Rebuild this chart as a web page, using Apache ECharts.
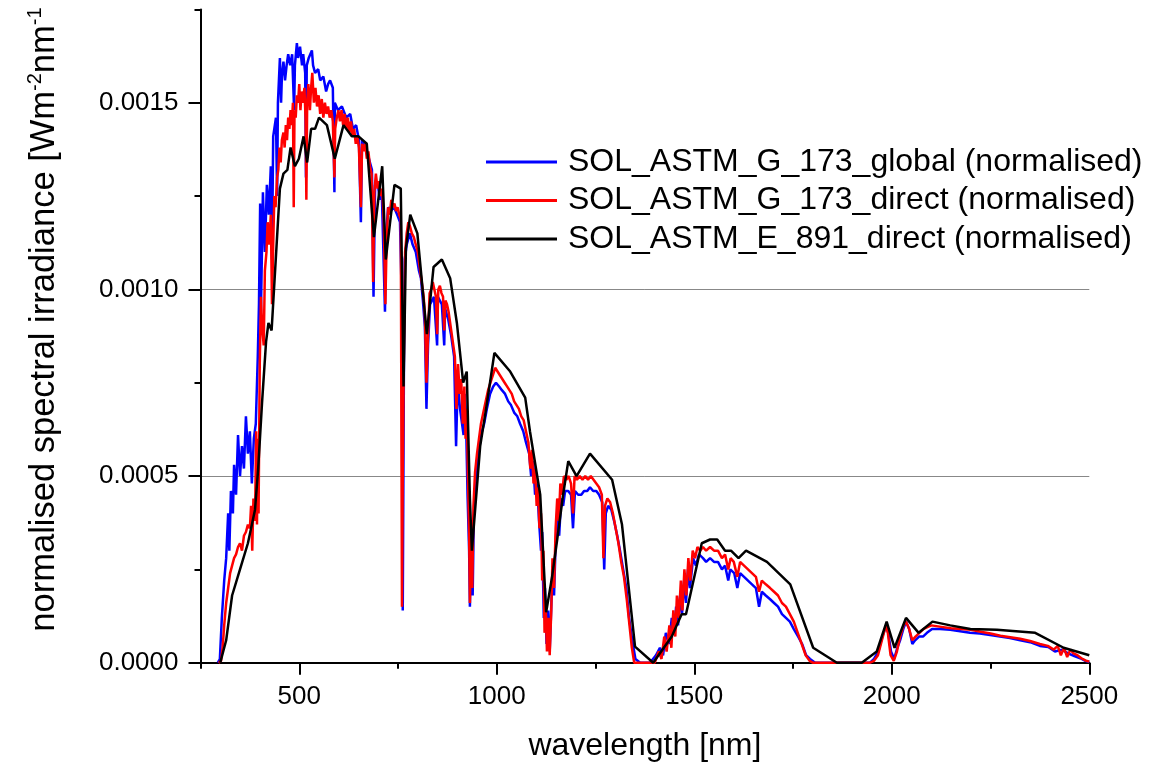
<!DOCTYPE html>
<html>
<head>
<meta charset="utf-8">
<script src="https://cdn.jsdelivr.net/npm/echarts@6/dist/echarts.min.js"></script>
<style>
  html, body { margin: 0; padding: 0; background: #fff; }
  #chart { width: 1158px; height: 764px; }
</style>
</head>
<body>
<div id="chart"></div>
<script>
// axis ticks
var xMajorTicks = [500, 1000, 1500, 2000, 2500];
var xMinorTicks = [250, 750, 1250, 1750, 2250];
var yMajorTicks = [0, 0.0005, 0.001, 0.0015];
var yMinorTicks = [0.00025, 0.00075, 0.00125, 0.00175];

var seriesNames = [
  'SOL_ASTM_G_173_global (normalised)',
  'SOL_ASTM_G_173_direct (normalised)',
  'SOL_ASTM_E_891_direct (normalised)'
];

// [wavelength nm, normalised irradiance]
var g173Global = [
  [294,0],[299,0.00001],[304,0.00012],[310,0.00022],[315,0.00028],[320,0.0004],[323,0.0003],
  [327,0.00046],[332,0.0004],[335,0.00053],[340,0.00045],[345,0.00061],[350,0.0005],[355,0.00058],
  [360,0.00052],[365,0.00066],[370,0.00056],[375,0.00062],[380,0.00048],[385,0.0006],[390,0.00064],
  [395,0.00082],[398,0.00096],[401,0.00123],[403,0.00094],[408,0.00126],[413,0.0011],[418,0.00128],
  [423,0.0012],[428,0.00133],[431,0.00108],[434,0.00141],[441,0.00146],[444,0.00125],[446,0.0015],
  [451,0.00162],[454,0.0015],[456,0.00157],[460,0.00161],[464,0.00156],[468,0.0016],[472,0.00163],
  [477,0.0016],[482,0.00163],[487,0.00148],[489,0.0016],[494,0.00166],[497,0.00162],[502,0.00165],
  [507,0.0016],[510,0.00163],[515,0.00158],[517,0.0013],[519,0.0016],[524,0.00162],[532,0.00164],
  [535,0.0016],[540,0.00158],[548,0.00159],[553,0.00156],[561,0.00157],[568,0.00153],[573,0.00155],
  [578,0.00156],[585,0.00154],[589,0.00126],[590,0.0015],[598,0.00148],[608,0.00149],[619,0.00146],
  [629,0.00147],[636,0.00143],[644,0.00144],[651,0.0014],[656,0.00118],[659,0.0014],[667,0.00138],
  [674,0.00136],[679,0.00134],[684,0.00132],[688,0.00098],[692,0.00128],[699,0.00128],[704,0.00124],
  [709,0.00126],[717,0.00094],[720,0.00115],[725,0.00122],[732,0.00121],[740,0.00122],[748,0.0012],
  [755,0.00118],[759,0.001],[762,0.00014],[765,0.0008],[767,0.00108],[772,0.00112],[780,0.00115],
  [787,0.00112],[795,0.0011],[803,0.00105],[808,0.00103],[813,0.00097],[818,0.0009],[822,0.00068],
  [826,0.00085],[831,0.00096],[836,0.00096],[841,0.00098],[849,0.00085],[851,0.00098],[856,0.00097],
  [861,0.00096],[867,0.00085],[869,0.00095],[877,0.00092],[884,0.00088],[892,0.00082],[897,0.00058],
  [901,0.00075],[907,0.00068],[916,0.00061],[919,0.00072],[922,0.00066],[926,0.00045],[930,0.0003],
  [932,0.00015],[935,0.00032],[939,0.00018],[942,0.0004],[947,0.0005],[953,0.00055],[960,0.00061],
  [968,0.00064],[975,0.00068],[983,0.00072],[991,0.00074],[998,0.00075],[1006,0.00074],[1013,0.00073],
  [1021,0.00072],[1029,0.0007],[1036,0.00069],[1044,0.00067],[1052,0.00066],[1059,0.00064],
  [1067,0.00062],[1074,0.00059],[1082,0.00056],[1087,0.0005],[1092,0.00054],[1097,0.00045],
  [1102,0.00048],[1107,0.00038],[1112,0.0003],[1115,0.00035],[1119,0.00012],[1122,0.0002],
  [1126,0.00005],[1130,0.00014],[1134,0.00003],[1137,0.00012],[1141,0.00025],[1145,0.00018],
  [1149,0.00032],[1153,0.0004],[1158,0.00034],[1163,0.00044],[1168,0.00042],[1173,0.00046],
  [1181,0.00046],[1188,0.00045],[1193,0.00036],[1198,0.00046],[1206,0.00045],[1214,0.00045],
  [1221,0.00046],[1229,0.00046],[1236,0.00047],[1244,0.00046],[1252,0.00046],[1259,0.00045],
  [1267,0.00043],[1272,0.00025],[1276,0.0004],[1282,0.00042],[1290,0.00041],[1297,0.00038],
  [1305,0.00034],[1312,0.0003],[1320,0.00025],[1328,0.0002],[1335,0.00012],[1343,0.00006],
  [1351,0.00001],[1363,0],[1388,0],[1403,0.00002],[1413,0.00004],[1421,0.00002],[1428,0.00008],
  [1436,0.00005],[1443,0.00012],[1449,0.00008],[1454,0.00015],[1459,0.0001],[1464,0.00018],
  [1469,0.00013],[1474,0.00022],[1479,0.00016],[1484,0.00025],[1489,0.0002],[1497,0.00028],
  [1504,0.00026],[1512,0.00029],[1522,0.00028],[1530,0.00027],[1540,0.00028],[1550,0.00027],
  [1560,0.00027],[1570,0.00025],[1578,0.00026],[1586,0.00022],[1591,0.00025],[1601,0.00024],
  [1609,0.0002],[1616,0.00024],[1626,0.00023],[1636,0.00022],[1646,0.00021],[1656,0.0002],
  [1664,0.00015],[1671,0.00019],[1681,0.00018],[1692,0.00017],[1702,0.00016],[1712,0.00015],
  [1722,0.00013],[1732,0.00012],[1742,0.00011],[1752,0.00009],[1763,0.00007],[1773,0.00005],
  [1783,0.00002],[1793,0.00001],[1806,0],[1945,0],[1955,0.00001],[1966,0.00003],[1976,0.00007],
  [1986,0.0001],[1991,0.00008],[1998,0.00003],[2006,0.00001],[2014,0.00004],[2021,0.00006],
  [2029,0.00009],[2036,0.00011],[2044,0.00009],[2052,0.00005],[2059,0.00006],[2069,0.00007],
  [2079,0.00007],[2089,0.00008],[2102,0.00009],[2122,0.00009],[2148,0.000088],[2173,0.000084],
  [2198,0.00008],[2223,0.000078],[2249,0.000074],[2274,0.00007],[2299,0.000066],[2325,0.00006],
  [2350,0.000055],[2375,0.000045],[2396,0.000042],[2413,0.00003],[2431,0.000035],[2446,0.000025],
  [2462,0.000018],[2477,0.000012],[2490,0.000005],[2500,0.000002]
];

var g173Direct = [
  [296,0],[302,0.000005],[306,0.00004],[310,0.0001],[315,0.00016],[320,0.0002],[325,0.00024],
  [330,0.00026],[335,0.00028],[340,0.00029],[345,0.00031],[350,0.00032],[355,0.0003],[360,0.00034],
  [365,0.00035],[370,0.00037],[375,0.00036],[378,0.00042],[381,0.0003],[384,0.00044],[388,0.00038],
  [391,0.00062],[393,0.00037],[395,0.0006],[397,0.0004],[400,0.0008],[403,0.00098],[406,0.0009],
  [410,0.00085],[413,0.00105],[417,0.0011],[420,0.00118],[424,0.00112],[428,0.0012],[431,0.00096],
  [434,0.00112],[437,0.00125],[440,0.00122],[444,0.0013],[447,0.00132],[450,0.00138],[453,0.00134],
  [456,0.0014],[460,0.00142],[463,0.00138],[466,0.00144],[469,0.0014],[472,0.00146],[475,0.00143],
  [478,0.00148],[481,0.00144],[484,0.0015],[486,0.00122],[488,0.00148],[491,0.00146],[494,0.00152],
  [497,0.0015],[500,0.00155],[503,0.00148],[506,0.00153],[510,0.0015],[513,0.00154],[516,0.00146],
  [518,0.00124],[520,0.0015],[523,0.00155],[527,0.00148],[530,0.00154],[533,0.00158],[537,0.0015],
  [541,0.00154],[545,0.00149],[549,0.00152],[553,0.00147],[557,0.00151],[561,0.00146],[565,0.0015],
  [569,0.00147],[573,0.00149],[577,0.00146],[581,0.00148],[585,0.00145],[589,0.0013],[591,0.00143],
  [595,0.00146],[599,0.00148],[603,0.00145],[607,0.00148],[611,0.00144],[615,0.00147],[619,0.00143],
  [623,0.00146],[627,0.00142],[631,0.00145],[635,0.00141],[639,0.00143],[643,0.00139],[647,0.00141],
  [651,0.00138],[656,0.00122],[659,0.00139],[663,0.00137],[667,0.00139],[671,0.00135],[675,0.00137],
  [679,0.00133],[683,0.00131],[687,0.00102],[690,0.00126],[694,0.00131],[698,0.00127],[702,0.00129],
  [706,0.00125],[710,0.00127],[714,0.00118],[718,0.00096],[721,0.00112],[725,0.00122],[729,0.0012],
  [733,0.00124],[737,0.00122],[741,0.00123],[745,0.00121],[749,0.00122],[753,0.0012],[757,0.00119],
  [760,0.00015],[762,0.0005],[765,0.00085],[768,0.0011],[772,0.00115],[776,0.00118],[780,0.00117],
  [785,0.00115],[790,0.00114],[795,0.00112],[800,0.0011],[805,0.00106],[810,0.00102],[815,0.00098],
  [818,0.00093],[822,0.00075],[826,0.00088],[830,0.00099],[834,0.001],[838,0.00102],[842,0.001],
  [846,0.00098],[849,0.00088],[852,0.001],[856,0.00101],[860,0.00099],[864,0.00098],[867,0.00089],
  [870,0.00097],[874,0.00096],[878,0.00094],[882,0.00091],[886,0.00088],[890,0.00085],[894,0.00082],
  [898,0.00068],[902,0.0008],[906,0.00072],[910,0.00076],[914,0.00064],[918,0.00074],[921,0.0006],
  [924,0.00068],[927,0.0005],[930,0.00035],[932,0.00016],[935,0.00034],[938,0.0002],[941,0.00042],
  [945,0.00051],[950,0.00056],[955,0.0006],[960,0.00064],[966,0.00067],[972,0.0007],[978,0.00073],
  [984,0.00075],[990,0.00077],[996,0.00079],[1002,0.00078],[1008,0.00077],[1014,0.00076],
  [1020,0.00075],[1026,0.00074],[1032,0.00073],[1038,0.00072],[1044,0.0007],[1050,0.00069],
  [1056,0.00068],[1062,0.00066],[1068,0.00065],[1074,0.00062],[1080,0.00059],[1085,0.00052],
  [1089,0.00057],[1093,0.00048],[1097,0.00052],[1101,0.00042],[1105,0.00047],[1108,0.00036],
  [1112,0.0004],[1115,0.00022],[1118,0.0003],[1121,0.00008],[1124,0.00015],[1127,0.00003],
  [1131,0.00012],[1134,0.00002],[1138,0.00014],[1141,0.00028],[1145,0.0002],[1149,0.00036],
  [1153,0.00044],[1157,0.00038],[1161,0.00048],[1165,0.00045],[1170,0.0005],[1176,0.00049],
  [1182,0.0005],[1188,0.00048],[1193,0.0004],[1197,0.0005],[1203,0.00049],[1210,0.0005],
  [1217,0.00049],[1224,0.0005],[1231,0.00049],[1238,0.0005],[1245,0.00049],[1252,0.00048],
  [1259,0.00047],[1266,0.00045],[1270,0.00028],[1274,0.00042],[1280,0.00044],[1287,0.00043],
  [1294,0.0004],[1301,0.00036],[1308,0.00032],[1315,0.00027],[1322,0.00023],[1329,0.00017],
  [1336,0.0001],[1342,0.00004],[1348,0],[1400,0],[1410,0.00003],[1417,0.00001],[1424,0.00007],
  [1430,0.00003],[1437,0.0001],[1442,0.00004],[1447,0.00014],[1452,0.00007],[1456,0.00018],
  [1461,0.00012],[1466,0.00022],[1470,0.00014],[1475,0.00025],[1480,0.00018],[1485,0.00028],
  [1490,0.00022],[1496,0.0003],[1502,0.00028],[1508,0.00031],[1515,0.0003],[1522,0.00031],
  [1530,0.0003],[1540,0.00031],[1550,0.0003],[1560,0.0003],[1570,0.00028],[1578,0.00029],
  [1586,0.00025],[1592,0.00028],[1600,0.00027],[1609,0.00023],[1616,0.00027],[1626,0.00026],
  [1636,0.00025],[1646,0.00024],[1656,0.00023],[1664,0.00019],[1671,0.00022],[1681,0.00021],
  [1692,0.0002],[1702,0.00019],[1712,0.00018],[1722,0.00016],[1732,0.00015],[1742,0.00013],
  [1752,0.00011],[1762,0.00008],[1772,0.00005],[1782,0.00002],[1792,0.000005],[1800,0],[1945,0],
  [1955,0.000005],[1965,0.00002],[1975,0.00006],[1985,0.0001],[1990,0.00008],[1997,0.00002],
  [2005,0.000005],[2013,0.00003],[2021,0.00007],[2030,0.0001],[2036,0.00011],[2044,0.00009],
  [2052,0.00006],[2060,0.00007],[2070,0.00008],[2080,0.00009],[2090,0.000095],[2100,0.0001],
  [2125,0.000096],[2150,0.000092],[2175,0.00009],[2200,0.000088],[2225,0.000083],[2250,0.000078],
  [2275,0.000072],[2300,0.000068],[2325,0.000064],[2350,0.000058],[2375,0.00005],[2395,0.000045],
  [2410,0.000035],[2420,0.000045],[2428,0.00002],[2436,0.00004],[2444,0.000015],[2452,0.000035],
  [2460,0.000025],[2470,0.00002],[2480,0.000012],[2490,0.000006],[2500,0.000003]
];

var e891Direct = [
  [300,0],[315,0.00006],[330,0.00018],[350,0.00025],[370,0.00032],[388,0.00041],[396,0.00052],
  [406,0.0007],[416,0.00086],[422,0.00091],[430,0.00089],[451,0.00127],[460,0.00131],[470,0.00132],
  [478,0.00138],[489,0.00133],[499,0.00135],[511,0.00141],[520,0.00134],[530,0.00143],[540,0.00143],
  [550,0.00146],[570,0.00144],[590,0.00135],[612,0.00144],[633,0.00141],[650,0.00141],[671,0.00139],
  [689,0.00114],[710,0.00133],[719,0.00108],[741,0.00128],[757,0.00127],[764,0.00074],[770,0.00111],
  [781,0.0012],[799,0.00115],[823,0.00088],[840,0.00106],[861,0.00108],[882,0.00103],[899,0.00091],
  [915,0.00075],[924,0.00078],[932,0.00044],[937,0.0003],[958,0.00058],[973,0.00068],[994,0.00083],
  [1034,0.00078],[1072,0.00071],[1084,0.00062],[1110,0.00045],[1125,0.000135],[1140,0.00023],
  [1153,0.00033],[1168,0.00045],[1181,0.00054],[1202,0.0005],[1236,0.00056],[1292,0.00049],
  [1317,0.00037],[1350,0.000043],[1396,0],[1443,0.00007],[1468,0.00013],[1479,0.00013],
  [1519,0.00032],[1540,0.00033],[1558,0.00033],[1578,0.0003],[1593,0.0003],[1612,0.00028],
  [1631,0.0003],[1684,0.00027],[1743,0.00021],[1801,0.00004],[1861,0],[1924,0],[1962,0.00003],
  [1987,0.00011],[2007,0.00004],[2036,0.00012],[2068,0.00008],[2103,0.00011],[2148,0.0001],
  [2199,0.00009],[2266,0.000088],[2363,0.00008],[2435,0.00004],[2500,0.00002]
];

var FONT = "'Liberation Sans', Arial, sans-serif";

var chart = echarts.init(document.getElementById('chart'), null, { renderer: 'canvas' });

function tickAxisX(ticks, len, main) {
  return {
    type: 'value', position: 'bottom', min: 250, max: 2500,
    name: main ? 'wavelength [nm]' : '', nameLocation: 'middle', nameGap: 67,
    nameTextStyle: { fontFamily: FONT, fontSize: 32, color: '#000' },
    axisLine: { show: main, onZero: false, lineStyle: { color: '#000', width: 2 } },
    axisTick: { show: true, inside: false, length: len, customValues: ticks, lineStyle: { color: '#000', width: 2 } },
    axisLabel: {
      show: main, customValues: ticks, margin: 21, fontFamily: FONT, fontSize: 26, color: '#000',
      formatter: function (v) { return String(v); }
    },
    splitLine: { show: false }
  };
}

var option = {
  animation: false,
  backgroundColor: '#fff',
  grid: { left: 200.5, top: 9.4, right: 68.7, bottom: 101.3, outerBoundsMode: 'none', containLabel: false },
  legend: {
    left: 486, top: 146, orient: 'vertical', padding: 0,
    icon: 'rect', itemWidth: 71, itemHeight: 3, itemGap: 6.5, itemTextGap: 10,
    textStyle: { fontFamily: FONT, fontSize: 32, lineHeight: 31, color: '#000', padding: [0, 0, 0, 6] },
    data: seriesNames
  },
  xAxis: [tickAxisX(xMajorTicks, 12, true), tickAxisX(xMinorTicks, 6, false)],
  yAxis: [
    {
      type: 'value', min: 0, max: 0.00175, interval: 0.0005,
      name: '{n|normalised spectral irradiance [Wm}{s|-2}{n|nm}{s|-1}',
      nameLocation: 'middle', nameGap: 137,
      nameTextStyle: {
        color: '#000', padding: [0, 0, 0, 33],
        rich: {
          n: { fontFamily: FONT, fontSize: 34.5, lineHeight: 38, color: '#000' },
          s: { fontFamily: FONT, fontSize: 20, lineHeight: 20, verticalAlign: 'top', color: '#000' }
        }
      },
      axisLine: { show: true, onZero: false, lineStyle: { color: '#000', width: 2 } },
      axisTick: { show: true, length: 12, customValues: yMajorTicks, lineStyle: { color: '#000', width: 2 } },
      axisLabel: {
        customValues: yMajorTicks, margin: 22, fontFamily: FONT, fontSize: 26, color: '#000',
        formatter: function (v) { return v.toFixed(4); }
      },
      splitLine: { show: true, showMinLine: false, showMaxLine: false, lineStyle: { color: '#888', width: 1 } }
    },
    {
      type: 'value', min: 0, max: 0.00175, position: 'left',
      axisLine: { show: false },
      axisTick: { show: true, length: 6, customValues: yMinorTicks, lineStyle: { color: '#000', width: 2 } },
      axisLabel: { show: false },
      splitLine: { show: false }
    }
  ],
  series: [
    { name: seriesNames[0], type: 'line', data: g173Global, symbol: 'none', color: '#0000ff',
      lineStyle: { color: '#0000ff', width: 2.5 } },
    { name: seriesNames[1], type: 'line', data: g173Direct, symbol: 'none', color: '#ff0000',
      lineStyle: { color: '#ff0000', width: 2.5 } },
    { name: seriesNames[2], type: 'line', data: e891Direct, symbol: 'none', color: '#000000',
      lineStyle: { color: '#000000', width: 2.5 } }
  ]
};

chart.setOption(option);
</script>
</body>
</html>
